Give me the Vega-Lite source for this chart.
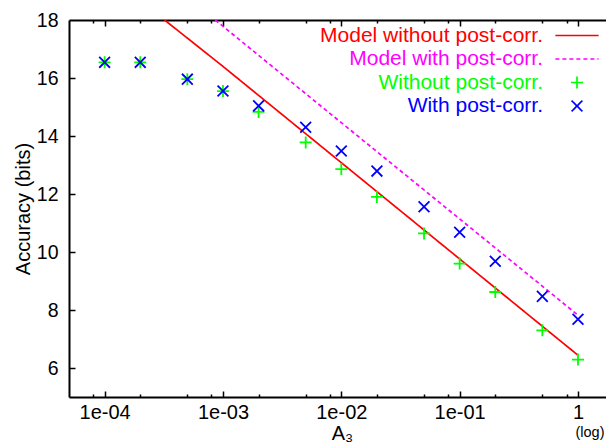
{
  "$schema": "https://vega.github.io/schema/vega-lite/v6.json",
  "width": 537,
  "height": 377,
  "autosize": {"type": "none"},
  "padding": {"left": 69, "top": 20, "right": 0, "bottom": 49},
  "background": "white",
  "config": {
    "view": {"stroke": null},
    "font": "Liberation Sans",
    "axis": {"grid": false, "domainColor": "black", "tickColor": "black", "labelColor": "black", "titleColor": "black", "labelFontSize": 20, "titleFontSize": 20, "titleFontWeight": "normal", "labelFont": "Liberation Sans", "titleFont": "Liberation Sans", "tickWidth": 1.5}
  },
  "datasets": {
    "model": [
      {"A3": 0.000321, "accuracy": 18.0, "series": "Model without post-corr."},
      {"A3": 0.001, "accuracy": 16.40, "series": "Model without post-corr."},
      {"A3": 0.01, "accuracy": 13.08, "series": "Model without post-corr."},
      {"A3": 0.1, "accuracy": 9.76, "series": "Model without post-corr."},
      {"A3": 1, "accuracy": 6.44, "series": "Model without post-corr."},
      {"A3": 0.00086, "accuracy": 18.0, "series": "Model with post-corr."},
      {"A3": 0.01, "accuracy": 14.46, "series": "Model with post-corr."},
      {"A3": 0.1, "accuracy": 11.14, "series": "Model with post-corr."},
      {"A3": 1, "accuracy": 7.82, "series": "Model with post-corr."}
    ],
    "measured": [
      {"A3": 0.0001, "accuracy": 16.54, "series": "Without post-corr."},
      {"A3": 0.0002, "accuracy": 16.54, "series": "Without post-corr."},
      {"A3": 0.0005, "accuracy": 15.96, "series": "Without post-corr."},
      {"A3": 0.001, "accuracy": 15.55, "series": "Without post-corr."},
      {"A3": 0.002, "accuracy": 14.83, "series": "Without post-corr."},
      {"A3": 0.005, "accuracy": 13.78, "series": "Without post-corr."},
      {"A3": 0.01, "accuracy": 12.86, "series": "Without post-corr."},
      {"A3": 0.02, "accuracy": 11.90, "series": "Without post-corr."},
      {"A3": 0.05, "accuracy": 10.64, "series": "Without post-corr."},
      {"A3": 0.1, "accuracy": 9.60, "series": "Without post-corr."},
      {"A3": 0.2, "accuracy": 8.62, "series": "Without post-corr."},
      {"A3": 0.5, "accuracy": 7.30, "series": "Without post-corr."},
      {"A3": 1, "accuracy": 6.29, "series": "Without post-corr."},
      {"A3": 0.0001, "accuracy": 16.54, "series": "With post-corr."},
      {"A3": 0.0002, "accuracy": 16.54, "series": "With post-corr."},
      {"A3": 0.0005, "accuracy": 15.96, "series": "With post-corr."},
      {"A3": 0.001, "accuracy": 15.55, "series": "With post-corr."},
      {"A3": 0.002, "accuracy": 15.04, "series": "With post-corr."},
      {"A3": 0.005, "accuracy": 14.30, "series": "With post-corr."},
      {"A3": 0.01, "accuracy": 13.48, "series": "With post-corr."},
      {"A3": 0.02, "accuracy": 12.79, "series": "With post-corr."},
      {"A3": 0.05, "accuracy": 11.56, "series": "With post-corr."},
      {"A3": 0.1, "accuracy": 10.68, "series": "With post-corr."},
      {"A3": 0.2, "accuracy": 9.68, "series": "With post-corr."},
      {"A3": 0.5, "accuracy": 8.47, "series": "With post-corr."},
      {"A3": 1, "accuracy": 7.68, "series": "With post-corr."}
    ]
  },
  "layer": [
    {
      "data": {"name": "model"},
      "mark": {"type": "line", "strokeWidth": 1.7, "clip": true},
      "encoding": {
        "x": {"field": "A3", "type": "quantitative",
          "scale": {"type": "log", "domain": [0.00005, 1.7245], "nice": false},
          "axis": {"orient": "bottom", "values": [0.0001, 0.001, 0.01, 0.1, 1], "labelExpr": "datum.value >= 0.999 ? '1' : '1e-0' + round(-log(datum.value) / LN10)", "ticks": false, "domainWidth": 2, "labelPadding": 21, "labelBaseline": "alphabetic", "title": "A₃", "titleX": 273, "titleY": 42, "titleBaseline": "alphabetic", "titleAlign": "center"}},
        "y": {"field": "accuracy", "type": "quantitative",
          "scale": {"domain": [5, 18], "nice": false, "zero": false},
          "axis": {"orient": "left", "values": [6, 8, 10, 12, 14, 16, 18], "ticks": false, "domainWidth": 2, "labelPadding": 11, "labelFontSize": 19.5, "title": "Accuracy (bits)", "titlePadding": 3}},
        "color": {"field": "series", "type": "nominal",
          "scale": {"domain": ["Model without post-corr.", "Model with post-corr.", "Without post-corr.", "With post-corr."], "range": ["#ff0000", "#ff00ff", "#00ff00", "#0000ff"]},
          "legend": {"orient": "none", "legendX": 497.5, "legendY": 5, "title": null, "padding": 0, "labelFontSize": 21, "labelAlign": "right", "labelOffset": -44.5, "labelLimit": 400, "labelColor": {"expr": "scale('color', datum.value)"}, "symbolSize": 144, "symbolStrokeWidth": 1.7, "rowPadding": 1.5, "symbolFillColor": "transparent"}},
        "strokeDash": {"field": "series", "type": "nominal",
          "scale": {"domain": ["Model without post-corr.", "Model with post-corr.", "Without post-corr.", "With post-corr."], "range": [[1, 0], [4, 3], [1, 0], [1, 0]]},
          "legend": {"orient": "none", "legendX": 497.5, "legendY": 5, "title": null, "padding": 0, "labelFontSize": 21, "labelAlign": "right", "labelOffset": -44.5, "labelLimit": 400, "labelColor": {"expr": "scale('color', datum.value)"}, "symbolSize": 144, "symbolStrokeWidth": 1.7, "rowPadding": 1.5, "symbolFillColor": "transparent"}}
      }
    },
    {
      "data": {"name": "measured"},
      "mark": {"type": "point", "filled": false, "size": 144, "strokeWidth": 1.8, "opacity": 1},
      "encoding": {
        "x": {"field": "A3", "type": "quantitative",
          "axis": {"orient": "bottom", "offset": -6, "domain": false, "labels": false, "values": [0.0001, 0.001, 0.01, 0.1, 1], "tickSize": 6, "title": null}},
        "y": {"field": "accuracy", "type": "quantitative",
          "axis": {"orient": "left", "offset": -6, "domain": false, "labels": false, "values": [6, 8, 10, 12, 14, 16], "tickSize": 6, "title": null}},
        "color": {"field": "series", "type": "nominal",
          "legend": {"orient": "none", "legendX": 497.5, "legendY": 5, "title": null, "padding": 0, "labelFontSize": 21, "labelAlign": "right", "labelOffset": -44.5, "labelLimit": 400, "labelColor": {"expr": "scale('color', datum.value)"}, "symbolSize": 144, "symbolStrokeWidth": 1.7, "rowPadding": 1.5, "symbolFillColor": "transparent"}},
        "shape": {"field": "series", "type": "nominal",
          "scale": {"domain": ["Model without post-corr.", "Model with post-corr.", "Without post-corr.", "With post-corr."], "range": ["M-3.6,0H3.6", "M-3.6,0H3.6", "M-1,0H1M0,-1V1", "M-0.9,-0.9L0.9,0.9M-0.9,0.9L0.9,-0.9"]},
          "legend": {"orient": "none", "legendX": 497.5, "legendY": 5, "title": null, "padding": 0, "labelFontSize": 21, "labelAlign": "right", "labelOffset": -44.5, "labelLimit": 400, "labelColor": {"expr": "scale('color', datum.value)"}, "symbolSize": 144, "symbolStrokeWidth": 1.7, "rowPadding": 1.5, "symbolFillColor": "transparent"}}
      }
    },
    {
      "data": {"name": "measured"},
      "mark": {"type": "point", "opacity": 0},
      "encoding": {
        "x": {"field": "A3", "type": "quantitative",
          "axis": {"orient": "bottom", "offset": -3, "domain": false, "labels": false, "values": [0.00008, 0.0002, 0.0005, 0.0008, 0.002, 0.005, 0.008, 0.02, 0.05, 0.08, 0.2, 0.5, 0.8], "tickSize": 3, "title": "(log)", "titleFontSize": 14.5, "titleX": 520.5, "titleY": 42, "titleBaseline": "alphabetic", "titleAlign": "center"}},
        "y": {"field": "accuracy", "type": "quantitative", "axis": null}
      }
    },
    {
      "data": {"name": "measured"},
      "mark": {"type": "point", "opacity": 0},
      "encoding": {
        "x": {"field": "A3", "type": "quantitative",
          "axis": {"orient": "top", "domainWidth": 2, "ticks": false, "labels": false, "title": null}},
        "y": {"field": "accuracy", "type": "quantitative", "axis": null}
      }
    },
    {
      "data": {"name": "measured"},
      "mark": {"type": "point", "opacity": 0},
      "encoding": {
        "x": {"field": "A3", "type": "quantitative",
          "axis": {"orient": "top", "offset": -6, "domain": false, "labels": false, "values": [0.0001, 0.001, 0.01, 0.1, 1], "tickSize": 6, "title": null}},
        "y": {"field": "accuracy", "type": "quantitative", "axis": null}
      }
    },
    {
      "data": {"name": "measured"},
      "mark": {"type": "point", "opacity": 0},
      "encoding": {
        "x": {"field": "A3", "type": "quantitative",
          "axis": {"orient": "top", "offset": -3, "domain": false, "labels": false, "values": [0.00008, 0.0002, 0.0005, 0.0008, 0.002, 0.005, 0.008, 0.02, 0.05, 0.08, 0.2, 0.5, 0.8], "tickSize": 3, "title": null}},
        "y": {"field": "accuracy", "type": "quantitative", "axis": null}
      }
    }
  ],
  "resolve": {"axis": {"x": "independent", "y": "independent"}}
}
